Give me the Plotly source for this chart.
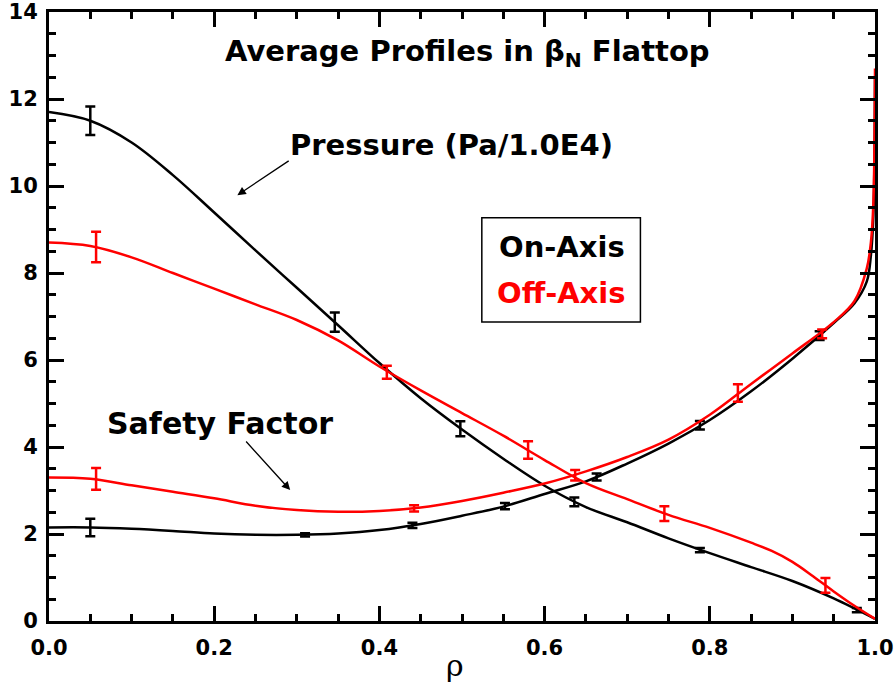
import plotly.graph_objects as go

# Smooth profile curves (rho, value)
rho_p_on = [0.0, 0.05, 0.1, 0.15, 0.2, 0.25, 0.3, 0.35, 0.4, 0.45, 0.5, 0.55, 0.6, 0.65, 0.7, 0.75, 0.8, 0.85, 0.9, 0.95, 1.0]
p_on = [11.7, 11.5, 11.0, 10.25, 9.39, 8.52, 7.66, 6.8, 5.93, 5.12, 4.4, 3.73, 3.11, 2.62, 2.27, 1.9, 1.56, 1.24, 0.92, 0.52, 0.05]

rho_p_off = [0.0, 0.05, 0.1, 0.15, 0.2, 0.25, 0.3, 0.35, 0.4, 0.45, 0.5, 0.55, 0.6, 0.65, 0.7, 0.75, 0.8, 0.85, 0.875, 0.9, 0.925, 0.95, 0.975, 1.0]
p_off = [8.7, 8.62, 8.36, 8.0, 7.64, 7.28, 6.92, 6.45, 5.85, 5.3, 4.78, 4.26, 3.7, 3.17, 2.8, 2.44, 2.14, 1.8, 1.61, 1.36, 1.03, 0.68, 0.35, 0.05]

rho_q_on = [0.0, 0.05, 0.1, 0.15, 0.2, 0.25, 0.3, 0.35, 0.4, 0.45, 0.5, 0.55, 0.6, 0.65, 0.7, 0.75, 0.8, 0.85, 0.9, 0.95, 0.975, 0.99, 0.995, 0.998, 1.0]
q_on = [2.15, 2.15, 2.12, 2.07, 2.01, 1.98, 1.98, 2.01, 2.09, 2.23, 2.42, 2.63, 2.92, 3.21, 3.62, 4.08, 4.62, 5.28, 6.03, 6.85, 7.3, 7.8, 8.4, 9.3, 12.5]

rho_q_off = [0.0, 0.05, 0.1, 0.15, 0.2, 0.25, 0.3, 0.35, 0.4, 0.45, 0.5, 0.55, 0.6, 0.65, 0.7, 0.75, 0.8, 0.85, 0.9, 0.95, 0.975, 0.99, 0.995, 0.998, 1.0]
q_off = [3.3, 3.27, 3.12, 2.97, 2.82, 2.65, 2.55, 2.51, 2.53, 2.61, 2.76, 2.95, 3.16, 3.44, 3.77, 4.17, 4.74, 5.45, 6.15, 6.87, 7.35, 8.1, 8.7, 9.6, 12.7]

# Measured points with error bars
err_rho_p_on = [0.05, 0.346, 0.498, 0.636, 0.788, 0.978]
err_p_on = [11.5, 6.87, 4.42, 2.74, 1.63, 0.25]
err_p_on_sig = [0.33, 0.22, 0.17, 0.1, 0.05, 0.05]

err_rho_p_off = [0.057, 0.409, 0.58, 0.745, 0.94]
err_p_off = [8.6, 5.72, 3.93, 2.47, 0.82]
err_p_off_sig = [0.35, 0.15, 0.2, 0.17, 0.17]

err_rho_q_on = [0.05, 0.31, 0.44, 0.552, 0.663, 0.788, 0.933]
err_q_on = [2.15, 1.98, 2.2, 2.64, 3.31, 4.5, 6.56]
err_q_on_sig = [0.2, 0.04, 0.06, 0.07, 0.08, 0.1, 0.1]

err_rho_q_off = [0.057, 0.442, 0.637, 0.834, 0.936]
err_q_off = [3.27, 2.59, 3.35, 5.24, 6.6]
err_q_off_sig = [0.25, 0.07, 0.12, 0.2, 0.1]

BLACK = "#000000"
RED = "#ff0000"
FONT = "DejaVu Sans"

fig = go.Figure()

def curve(x, y, color):
    fig.add_trace(go.Scatter(x=x, y=y, mode="lines", line=dict(color=color, width=2.5, shape="spline", smoothing=1.0),
                             showlegend=False, hoverinfo="skip"))

def errs(x, y, s, color):
    fig.add_trace(go.Scatter(x=x, y=y, mode="markers", marker=dict(size=1, color=color, opacity=0),
                             error_y=dict(type="data", array=s, visible=True, color=color, thickness=2.5, width=5),
                             showlegend=False, hoverinfo="skip"))

curve(rho_q_on, q_on, BLACK)
curve(rho_p_on, p_on, BLACK)
errs(err_rho_p_on, err_p_on, err_p_on_sig, BLACK)
errs(err_rho_q_on, err_q_on, err_q_on_sig, BLACK)
curve(rho_p_off, p_off, RED)
curve(rho_q_off, q_off, RED)
errs(err_rho_p_off, err_p_off, err_p_off_sig, RED)
errs(err_rho_q_off, err_q_off, err_q_off_sig, RED)

# invisible trace so the top/right tick axes are drawn
fig.add_trace(go.Scatter(x=[0.5], y=[7], xaxis="x2", yaxis="y2", mode="markers",
                         marker=dict(opacity=0), showlegend=False, hoverinfo="skip"))

tick_font = dict(family=FONT, size=21, color="black", weight="bold")
frame = dict(showline=True, linecolor="black", linewidth=3, ticks="inside", tickcolor="black",
             tickwidth=3, ticklen=15, showgrid=False, zeroline=False, automargin=False)
xminor = dict(ticks="inside", dtick=0.05, ticklen=7, tickwidth=3, tickcolor="black", showgrid=False)
yminor = dict(ticks="inside", dtick=0.5, ticklen=7, tickwidth=3, tickcolor="black", showgrid=False)

fig.update_layout(
    xaxis=dict(range=[0, 1], dtick=0.2, tickformat=".1f", tickfont=tick_font, minor=xminor,
               ticklabelstandoff=6, **frame),
    yaxis=dict(range=[0, 14], dtick=2, tickfont=tick_font, minor=yminor, ticklabelstandoff=4, **frame),
    xaxis2=dict(range=[0, 1], dtick=0.2, overlaying="x", side="top", anchor="y", showticklabels=False,
                minor=xminor, **frame),
    yaxis2=dict(range=[0, 14], dtick=2, overlaying="y", side="right", anchor="x", showticklabels=False,
                minor=yminor, **frame),
)

ann_font = dict(family=FONT, size=29, color="black", weight="bold")
fig.add_annotation(x=0.507, y=13.06, xref="x", yref="y", showarrow=False,
                   text="Average Profiles in \u03b2<sub>N</sub> Flattop", font=ann_font)
fig.add_annotation(x=0.487, y=10.94, xref="x", yref="y", showarrow=False,
                   text="Pressure (Pa/1.0E4)", font=ann_font)
fig.add_annotation(x=0.228, y=9.79, ax=0.292, ay=10.6, xref="x", yref="y", axref="x", ayref="y",
                   showarrow=True, arrowhead=2, arrowsize=1.3, arrowwidth=1.3, arrowcolor="black", text="")
fig.add_annotation(x=0.207, y=4.55, xref="x", yref="y", showarrow=False,
                   text="Safety Factor", font=dict(family=FONT, size=30, color="black", weight="bold"))
fig.add_annotation(x=0.292, y=3.01, ax=0.237, ay=4.16, xref="x", yref="y", axref="x", ayref="y",
                   showarrow=True, arrowhead=2, arrowsize=1.3, arrowwidth=1.3, arrowcolor="black", text="")

# Legend box
fig.add_shape(type="rect", xref="paper", yref="paper", x0=0.524, x1=0.716, y0=0.491, y1=0.662,
              line=dict(color="black", width=1.5), fillcolor="white", layer="above")
fig.add_annotation(x=0.621, y=8.6, xref="x", yref="y", showarrow=False, text="On-Axis", font=ann_font)
fig.add_annotation(x=0.621, y=7.55, xref="x", yref="y", showarrow=False, text="Off-Axis",
                   font=dict(family=FONT, size=29, color=RED, weight="bold"))

fig.add_annotation(x=0.492, y=-0.105, xref="paper", yref="paper", showarrow=False, text="\u03c1",
                   font=dict(family="DejaVu Serif", size=30, color="black"))

fig.update_layout(width=895, height=688, margin=dict(l=49, r=20, t=12, b=67),
                  plot_bgcolor="white", paper_bgcolor="white")

fig.write_html("out.html")
